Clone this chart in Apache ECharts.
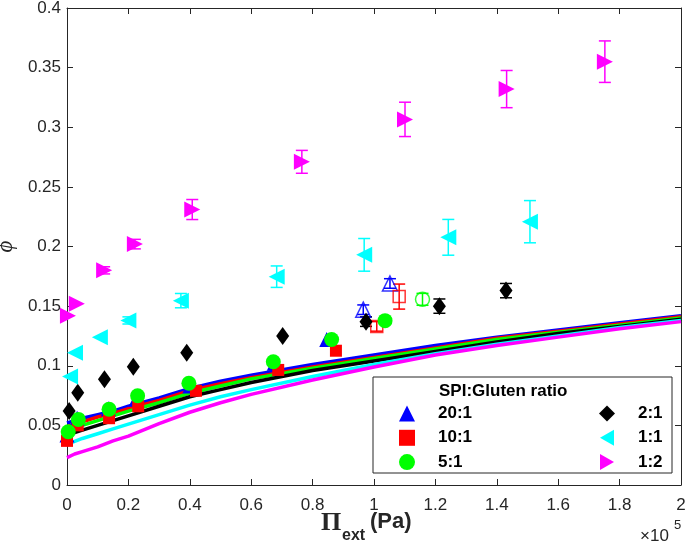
<!DOCTYPE html>
<html>
<head>
<meta charset="utf-8">
<script src="https://cdn.jsdelivr.net/npm/echarts@6/dist/echarts.min.js"></script>
<style>html,body{margin:0;padding:0;background:#fff}#c{width:685px;height:550px}</style>
</head>
<body>
<div id="c"></div>
<script>
// ---- data (x in units of 1e5 Pa) ----
const xTicks = [0, 0.2, 0.4, 0.6, 0.8, 1, 1.2, 1.4, 1.6, 1.8, 2];
const yTicks = [0, 0.05, 0.1, 0.15, 0.2, 0.25, 0.3, 0.35, 0.4];

const blueFilled  = [[0.0,0.042],[0.033,0.056],[0.135,0.064],[0.225,0.072],[0.40,0.083],[0.675,0.102],[0.846,0.122]];
const blueOpen    = [[0.965,0.147],[1.052,0.169]];
const redFilled   = [[0.0,0.037],[0.035,0.050],[0.137,0.056],[0.232,0.066],[0.42,0.079],[0.688,0.0965],[0.876,0.1126]];
const redOpen     = [[1.009,0.133],[1.082,0.158]];
const greenFilled = [[0.004,0.0447],[0.037,0.055],[0.137,0.0635],[0.23,0.0749],[0.397,0.0853],[0.672,0.1034],[0.862,0.122],[1.036,0.1378]];
const greenOpen   = [[1.158,0.1557]];
const blackData   = [[0.007,0.062],[0.035,0.0774],[0.122,0.0886],[0.216,0.0992],[0.39,0.111],[0.7025,0.125],[0.974,0.137],[1.213,0.150],[1.43,0.163]];
const cyanData    = [[0.01,0.091],[0.026,0.111],[0.107,0.124],[0.2,0.138],[0.371,0.1546],[0.683,0.1747],[0.968,0.193],[1.242,0.2077],[1.508,0.2208]];
const magentaData = [[0.003,0.142],[0.032,0.152],[0.121,0.180],[0.221,0.202],[0.408,0.231],[0.765,0.271],[1.101,0.3066],[1.432,0.332],[1.752,0.355]];

// error bars [x, y, halfwidth]
const magentaErr  = [[0.121,0.180,0.003],[0.221,0.202,0.004],[0.408,0.231,0.0084],[0.765,0.271,0.0096],[1.101,0.3066,0.0144],[1.432,0.332,0.0156],[1.752,0.355,0.0174]];
const cyanErr     = [[0.2,0.138,0.003],[0.371,0.1546,0.006],[0.683,0.1747,0.009],[0.968,0.193,0.0137],[1.242,0.2077,0.015],[1.508,0.2208,0.0177]];
const blackErr    = [[0.974,0.137,0.004],[1.213,0.150,0.006],[1.43,0.163,0.006]];
const blueOpenErr = [[0.965,0.147,0.004],[1.052,0.169,0.004]];
const redOpenErr  = [[1.009,0.133,0.004],[1.082,0.158,0.0105]];
const greenOpenErr= [[1.158,0.1557,0.005]];

// fitted curves
const curveX       = [0, 0.025, 0.05, 0.1, 0.15, 0.2, 0.3, 0.4, 0.5, 0.6, 0.8, 1.0, 1.2, 1.4, 1.6, 1.8, 2.0];
const curveBlue    = [0.052, 0.054, 0.056, 0.059, 0.062, 0.066, 0.073, 0.081, 0.087, 0.092, 0.101, 0.109, 0.117, 0.124, 0.130, 0.136, 0.142];
const curveRed     = [0.049, 0.051, 0.053, 0.057, 0.060, 0.064, 0.071, 0.079, 0.085, 0.090, 0.099, 0.107, 0.115, 0.123, 0.129, 0.135, 0.141];
const curveGreen   = [0.046, 0.048, 0.050, 0.054, 0.058, 0.062, 0.069, 0.077, 0.083, 0.089, 0.098, 0.106, 0.114, 0.122, 0.128, 0.134, 0.140];
const curveBlack   = [0.042, 0.044, 0.046, 0.050, 0.054, 0.058, 0.066, 0.074, 0.080, 0.086, 0.096, 0.104, 0.112, 0.120, 0.127, 0.133, 0.139];
const curveCyan    = [0.034, 0.0365, 0.039, 0.043, 0.047, 0.051, 0.059, 0.067, 0.074, 0.080, 0.091, 0.101, 0.110, 0.118, 0.125, 0.132, 0.138];
const curveMagenta = [0.023, 0.026, 0.028, 0.032, 0.037, 0.041, 0.0515, 0.061, 0.069, 0.076, 0.088, 0.099, 0.109, 0.117, 0.124, 0.131, 0.137];

const legendLeft  = ['20:1','10:1','5:1'];
const legendRight = ['2:1','1:1','1:2'];

// ---- build ----
const C = {blue:'#0000FF', red:'#FF0000', green:'#00FF00', black:'#000000', cyan:'#00FFFF', magenta:'#FF00FF'};
const axisColor = '#262626';
const font = 'Liberation Sans, Arial, Helvetica, sans-serif';
const leftTri  = 'path://M0,8L14,0L14,16Z';
const rightTri = 'path://M14,8L0,0L0,16Z';

function zip(xs, ys){ return xs.map((x,i)=>[x, ys[i]]); }
function curve(name, ys, color){
  return {name:name, type:'line', data: zip(curveX, ys), showSymbol:false, smooth:false,
    lineStyle:{color:color, width:3.5, join:'round'}, itemStyle:{color:color}, z:2, silent:true, xAxisIndex:0, yAxisIndex:0};
}
function errBars(data, color){
  return {type:'custom', data:data, encode:{x:0, y:1}, z:5, silent:true,
    renderItem: function(params, api){
      const x=api.value(0), y=api.value(1), e=api.value(2);
      const t=api.coord([x, y+e]), b=api.coord([x, y-e]);
      const hw=6, st={stroke:color, lineWidth:1.5};
      return {type:'group', children:[
        {type:'line', shape:{x1:t[0],y1:t[1],x2:b[0],y2:b[1]}, style:st},
        {type:'line', shape:{x1:t[0]-hw,y1:t[1],x2:t[0]+hw,y2:t[1]}, style:st},
        {type:'line', shape:{x1:b[0]-hw,y1:b[1],x2:b[0]+hw,y2:b[1]}, style:st}
      ]};
    }};
}
function scatter(name, data, symbol, size, color, rotate, z, hollow){
  return {name:name, type:'scatter', data:data, symbol:symbol, symbolSize:size, symbolRotate:rotate||0, z:z,
    itemStyle: hollow ? {color:'rgba(255,255,255,0)', borderColor:color, borderWidth:1.5} : {color:color, opacity:1}};
}

const series = [
  curve('c20', curveBlue, C.blue),
  curve('c10', curveRed, C.red),
  curve('c5', curveGreen, C.green),
  curve('c2', curveBlack, C.black),
  curve('c11', curveCyan, C.cyan),
  curve('c12', curveMagenta, C.magenta),
  errBars(blueOpenErr, C.blue),
  errBars(redOpenErr, C.red),
  errBars(greenOpenErr, C.green),
  errBars(blackErr, C.black),
  errBars(cyanErr, C.cyan),
  errBars(magentaErr, C.magenta),
  scatter('20:1', blueFilled, 'triangle', 15, C.blue, 0, 6),
  scatter('20:1 open', blueOpen, 'triangle', 15, C.blue, 0, 6, true),
  scatter('10:1', redFilled, 'rect', 12, C.red, 0, 7),
  scatter('10:1 open', redOpen, 'rect', 12, C.red, 0, 7, true),
  scatter('5:1', greenFilled, 'circle', 15, C.green, 0, 8),
  scatter('5:1 open', greenOpen, 'circle', 14, C.green, 0, 8, true),
  scatter('2:1', blackData, 'diamond', [13,18], C.black, 0, 9),
  scatter('1:1', cyanData, 'triangle', 16, C.cyan, 90, 9),
  scatter('1:2', magentaData, 'triangle', 16, C.magenta, -90, 9)
];

function xAx(pos, show){
  return {type:'value', min:xTicks[0], max:xTicks[xTicks.length-1], interval:0.2, position:pos,
    axisLine:{show:true, onZero:false, lineStyle:{color:axisColor, width:1}},
    axisTick:{show:true, inside:true, length:6, lineStyle:{color:axisColor}},
    axisLabel:{show:show, margin:12, color:axisColor, fontSize:17, fontFamily:font},
    splitLine:{show:false}};
}
function yAx(pos, show){
  return {type:'value', min:yTicks[0], max:yTicks[yTicks.length-1], interval:0.05, position:pos,
    axisLine:{show:true, onZero:false, lineStyle:{color:axisColor, width:1}},
    axisTick:{show:true, inside:true, length:6, lineStyle:{color:axisColor}},
    axisLabel:{show:show, margin:6, color:axisColor, fontSize:17, fontFamily:font},
    splitLine:{show:false},
    name: show ? 'ϕ' : '', nameLocation:'middle', nameGap:48, nameRotate:90,
    nameTextStyle:{fontSize:23, fontStyle:'italic', fontFamily:'Liberation Serif, serif', color:axisColor}};
}

function legendCfg(names, left){
  const data = names.map(n => n === '1:1' ? {name:n, icon:leftTri} : (n === '1:2' ? {name:n, icon:rightTri} : {name:n}));
  return {data:data, orient:'vertical', left:left, top:405, padding:0, itemWidth:16, itemHeight:16, itemGap:7.3,
    selectedMode:false, z:20,
    textStyle:{fontSize:17, fontWeight:'bold', fontFamily:font, color:'#000', padding:[0,0,0,18]}};
}

const chart = echarts.init(document.getElementById('c'), null, {renderer:'canvas'});
chart.setOption({
  animation:false,
  backgroundColor:'#fff',
  grid:{left:67, right:4, top:8, bottom:65, containLabel:false, outerBoundsMode:'none'},
  xAxis:[xAx('bottom', true), xAx('top', false)],
  yAxis:[yAx('left', true), yAx('right', false)],
  legend:[legendCfg(legendLeft, 399), legendCfg(legendRight, 599)],
  graphic:[
    {type:'rect', z:15, shape:{x:373, y:377, width:299, height:96}, style:{fill:'#fff', stroke:axisColor, lineWidth:1}},
    {type:'text', z:16, left:439, top:383, style:{text:'SPI:Gluten ratio', font:'bold 17px '+font, fill:'#000'}},
    {type:'text', z:16, left:321, top:510, style:{text:'Π', font:'bold 26px Liberation Serif, serif', fill:axisColor}},
    {type:'text', z:16, left:342, top:528, style:{text:'ext', font:'bold 16px '+font, fill:axisColor}},
    {type:'text', z:16, left:370, top:511, style:{text:'(Pa)', font:'bold 22px '+font, fill:axisColor}},
    {type:'text', z:16, left:640, top:528, style:{text:'×10', font:'17px '+font, fill:axisColor}},
    {type:'text', z:16, left:674, top:519, style:{text:'5', font:'13px '+font, fill:axisColor}}
  ],
  series: series
});
</script>
</body>
</html>
